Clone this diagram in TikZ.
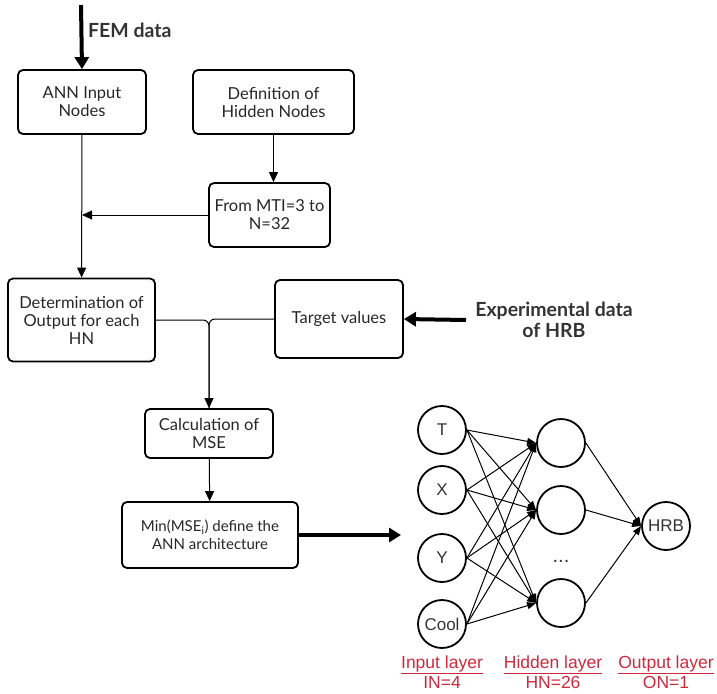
\documentclass[tikz,border=0pt]{standalone}
\usepackage{fontspec}
\setmainfont{Lato}
\newfontfamily\netfont{Liberation Sans}
\usetikzlibrary{arrows.meta}
\definecolor{txtgray}{HTML}{333333}
\definecolor{layerred}{HTML}{D0283C}

\begin{document}
\begin{tikzpicture}[x=1pt, y=-1pt,
    box/.style={rectangle, draw, line width=1.8pt, rounded corners=5pt, align=center, inner sep=2pt, font=\fontsize{16.5}{18}\selectfont, text=black!85},
    neuron/.style={circle, draw, line width=1.8pt, minimum size=48pt, inner sep=0pt, font=\netfont\fontsize{17}{19}\selectfont, text=txtgray},
    arrow/.style={-{Triangle[length=10pt,width=9pt]}, line width=1pt},
    bigarrow/.style={-{Triangle[length=12pt,width=14pt]}, line width=4pt},
    link/.style={-{Triangle[length=9pt,width=7pt]}, line width=1pt},
    layer/.style={font=\netfont\fontsize{17.5}{20}\selectfont, text=layerred, align=center}
]
    \useasboundingbox (0,0) rectangle (717,693);

    % Flowchart (left side)
    \node[box, minimum width=128pt, minimum height=64pt] (ann) at (82,102) {ANN Input\\Nodes};
    \node[box, minimum width=161pt, minimum height=64pt] (def) at (273.5,102) {Definition of\\Hidden Nodes};
    \node[box, minimum width=121pt, minimum height=64pt] (mti) at (269.5,215) {From MTI=3 to\\N=32};
    \node[box, minimum width=147pt, minimum height=83pt] (det) at (81.5,320) {Determination of\\Output for each\\HN};
    \node[box, minimum width=128pt, minimum height=78pt] (tgt) at (339,319) {Target values};
    \node[box, minimum width=128pt, minimum height=49pt] (calc) at (209,433.5) {Calculation of\\MSE};
    \node[box, minimum width=176pt, minimum height=66pt, font=\fontsize{15}{18}\selectfont] (min) at (210,535) {Min(MSE\textsubscript{i}) define the\\ANN architecture};

    \coordinate (femsrc) at (81,5);
    \coordinate (expsrc) at (466,320);
    \coordinate (netin) at (401,535);
    \coordinate (join) at (ann.south |- mti.west);

    \node[font=\bfseries\fontsize{19.5}{22}\selectfont, text=txtgray, anchor=west, inner sep=0pt] (fem) at (88,30) {FEM data};
    \node[font=\bfseries\fontsize{19.5}{21}\selectfont, text=txtgray, align=center] (exp) at (554,320) {Experimental data\\of HRB};

    \draw[bigarrow] (femsrc) -- (ann.north);
    \draw[arrow] (def.south) -- (def.south |- mti.north);
    \draw[arrow] (mti.west) -- (join);
    \draw[arrow] (ann) -- (det);
    \draw[bigarrow] (expsrc) -- (tgt.east);
    \draw[arrow, rounded corners=6pt] (det.east) -| (calc.north);
    \draw[line width=1pt, rounded corners=6pt] (tgt.west) -| (calc.north);
    \draw[arrow] (calc) -- (min);
    \draw[bigarrow] (min.east) -- (netin);

    % Network (right side)
    \node[neuron] (t) at (442,430) {T};
    \node[neuron] (x) at (442,490) {X};
    \node[neuron] (y) at (442,558) {Y};
    \node[neuron] (cool) at (442,624) {Cool};
    \node[neuron] (h1) at (561,443) {};
    \node[neuron] (h2) at (561,510) {};
    \node[neuron] (h3) at (561,603) {};
    \node[font=\netfont\fontsize{20}{20}\selectfont, text=txtgray] (dots) at (561,561) {...};
    \node[neuron] (hrb) at (666,526) {HRB};

    \foreach \i in {t,x,y,cool}
        \foreach \h in {h1,h2,h3}
            \draw[link] (\i.east) -- (\h.west);
    \foreach \h in {h1,h2,h3}
        \draw[link] (\h.east) -- (hrb.west);

    \node[layer] (inlab) at (442,672) {\underline{Input layer}\\IN=4};
    \node[layer] (hidlab) at (553,672) {\underline{Hidden layer}\\HN=26};
    \node[layer] (outlab) at (666,672) {\underline{Output layer}\\ON=1};
\end{tikzpicture}
\end{document}
